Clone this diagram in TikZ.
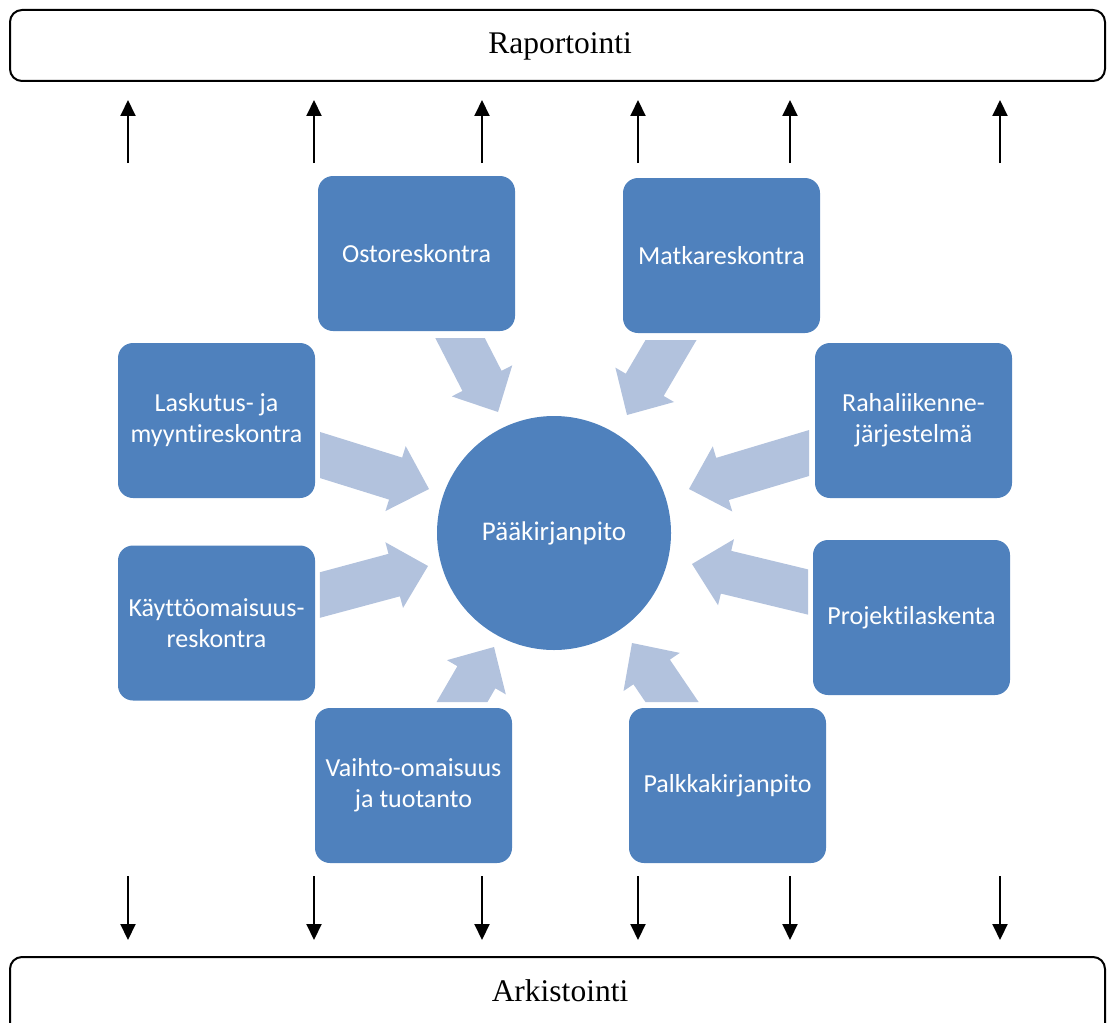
\documentclass[tikz,border=0pt]{standalone}
\usepackage{fontspec}
\setmainfont{Liberation Serif}
\newfontfamily\boxfont[Ligatures=NoCommon]{Carlito}
\usetikzlibrary{calc,arrows.meta}
\definecolor{boxblue}{HTML}{4F81BD}
\definecolor{arrowblue}{HTML}{B2C2DD}
\tikzset{
  module/.style={fill=boxblue, draw=none, rounded corners=15pt, minimum width=197pt, minimum height=155pt,
    text=white, font=\boxfont\fontsize{26}{31}\selectfont, align=center, inner sep=0pt},
  bar/.style={draw=black, line width=2pt, rounded corners=12pt},
  bartext/.style={font=\fontsize{31.5}{36}\selectfont, inner sep=0pt},
  thinarrow/.style={line width=2pt, -{Triangle[length=16pt,width=15pt]}},
  blockfill/.style={fill=arrowblue, draw=none},
}
\newcommand\blockarr[3]{%
  \path ($(#2)!35pt!(#1)$) coordinate (bh)
    ($(#1)!22pt!90:(#2)$) coordinate (s1) ($(bh)!22pt!90:(#2)$) coordinate (h1)
    ($(#1)!22pt!-90:(#2)$) coordinate (s2) ($(bh)!22pt!-90:(#2)$) coordinate (h2)
    ($(#1)+(#3)$) coordinate (q1) ($(#1)-(#3)$) coordinate (q2);
  \fill[blockfill] (intersection of s1--h1 and q1--q2) -- (h1) -- ($(bh)!34pt!90:(#2)$) -- (#2)
    -- ($(bh)!34pt!-90:(#2)$) -- (h2) -- (intersection of s2--h2 and q1--q2) -- cycle;}
\begin{document}
\begin{tikzpicture}[x=1pt,y=-1pt]
\useasboundingbox (0,0) rectangle (1107,1022);
\clip (0,0) rectangle (1107,1022);
% bars
\draw[bar] (10,10) rectangle (1105,81);
\node[bartext] (rap) at (560,46) {Raportointi};
\draw[bar] (10,957) rectangle (1105,1060);
\node[bartext] (ark) at (560,991) {Arkistointi};
% thin arrows
\foreach \x [count=\i] in {128,314,482,638,790,1000} {
  \coordinate (ua\i) at (\x,163);
  \coordinate (ub\i) at (\x,100);
  \coordinate (da\i) at (\x,876);
  \coordinate (db\i) at (\x,940);
  \draw[thinarrow] (ua\i) -- (ub\i);
  \draw[thinarrow] (da\i) -- (db\i);
}
% block arrows
\coordinate (t1) at (460,338); \coordinate (p1) at (498,412);
\coordinate (t2) at (671,340); \coordinate (p2) at (627,415);
\coordinate (t3) at (320,455); \coordinate (p3) at (429,489);
\coordinate (t4) at (809,453); \coordinate (p4) at (689,489);
\coordinate (t5) at (320,595); \coordinate (p5) at (428,566);
\coordinate (t6) at (808,592); \coordinate (p6) at (692,564);
\coordinate (t7) at (462,702); \coordinate (p7) at (494,647);
\coordinate (t8) at (672,702); \coordinate (p8) at (632,643);
\blockarr{t1}{p1}{40,0}
\blockarr{t2}{p2}{40,0}
\blockarr{t3}{p3}{0,40}
\blockarr{t4}{p4}{0,40}
\blockarr{t5}{p5}{0,40}
\blockarr{t6}{p6}{0,40}
\blockarr{t7}{p7}{40,0}
\blockarr{t8}{p8}{40,0}
% central circle
\node[circle, fill=boxblue, minimum size=234pt, inner sep=0pt, text=white,
  font=\boxfont\fontsize{27}{32}\selectfont] (pk) at (554,533) {Pääkirjanpito};
% modules
\node[module] (ostor) at (416.5,253.5) {Ostoreskontra};
\node[module] (matka) at (721.5,255.5) {Matkareskontra};
\node[module] (lasku) at (216.5,420.5) {Laskutus- ja\\myyntireskontra};
\node[module] (raha) at (913.5,420.5) {Rahaliikenne-\\järjestelmä};
\node[module] (kaytto) at (216.5,623) {Käyttöomaisuus-\\reskontra};
\node[module] (proj) at (911.5,617.5) {Projektilaskenta};
\node[module] (vaihto) at (413.5,785.5) {Vaihto-omaisuus\\ja tuotanto};
\node[module] (palkka) at (727.5,785.5) {Palkkakirjanpito};
\end{tikzpicture}
\end{document}
